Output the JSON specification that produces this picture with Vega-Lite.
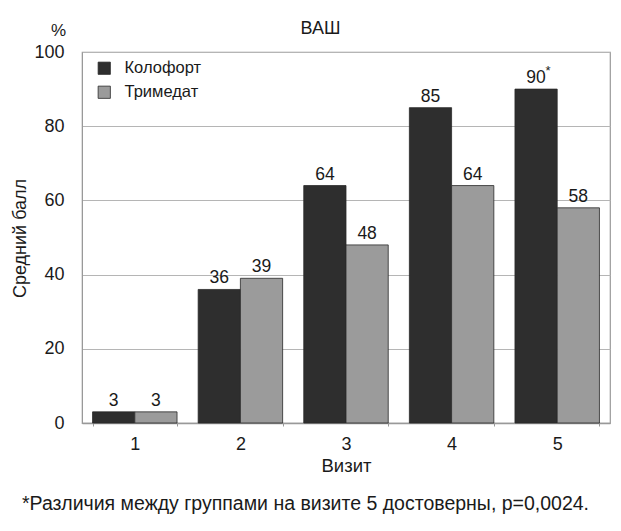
{
  "$schema": "https://vega.github.io/schema/vega-lite/v6.json",
  "autosize": "none",
  "width": 528,
  "height": 371,
  "padding": {"left": 82, "top": 52, "right": 11, "bottom": 108},
  "background": "white",
  "config": {
    "font": "Liberation Sans",
    "view": {"stroke": "#999999", "strokeWidth": 1.2}
  },
  "title": {
    "text": "*Различия между группами на визите 5 достоверны, p=0,0024.",
    "orient": "bottom",
    "anchor": "start",
    "frame": "group",
    "fontSize": 19.5,
    "fontWeight": "normal",
    "color": "#1a1a1a",
    "dx": -60,
    "offset": 20
  },
  "data": {
    "values": [
      {"visit": "1", "group": "Колофорт", "value": 3},
      {"visit": "1", "group": "Тримедат", "value": 3},
      {"visit": "2", "group": "Колофорт", "value": 36},
      {"visit": "2", "group": "Тримедат", "value": 39},
      {"visit": "3", "group": "Колофорт", "value": 64},
      {"visit": "3", "group": "Тримедат", "value": 48},
      {"visit": "4", "group": "Колофорт", "value": 85},
      {"visit": "4", "group": "Тримедат", "value": 64},
      {"visit": "5", "group": "Колофорт", "value": 90, "note": "*"},
      {"visit": "5", "group": "Тримедат", "value": 58}
    ]
  },
  "encoding": {
    "x": {
      "field": "visit",
      "type": "nominal",
      "scale": {"paddingInner": 0.2, "paddingOuter": 0.1}
    },
    "xOffset": {
      "field": "group",
      "type": "nominal",
      "sort": ["Колофорт", "Тримедат"],
      "scale": {"paddingInner": 0, "paddingOuter": 0}
    },
    "y": {
      "field": "value",
      "type": "quantitative",
      "scale": {"domain": [0, 100], "nice": false}
    }
  },
  "layer": [
    {
      "mark": {"type": "bar", "stroke": "#2a2a2a", "strokeWidth": 0.8},
      "encoding": {
        "x": {
          "field": "visit",
          "type": "nominal",
          "axis": {
            "orient": "bottom",
            "title": "Визит",
            "labelAngle": 0,
            "labelFontSize": 18,
            "labelColor": "#1a1a1a",
            "labelPadding": 9,
            "domainColor": "#999999",
            "domainWidth": 1.5,
            "tickBand": "extent",
            "tickSize": 3,
            "tickColor": "#999999",
            "titleFontSize": 18.5,
            "titleFontWeight": "normal",
            "titleColor": "#1a1a1a",
            "titlePadding": 3
          }
        },
        "y": {
          "field": "value",
          "type": "quantitative",
          "axis": {
            "orient": "left",
            "title": "Средний балл",
            "values": [0, 20, 40, 60, 80, 100],
            "ticks": false,
            "labelFontSize": 18,
            "labelColor": "#1a1a1a",
            "labelPadding": 18,
            "domainColor": "#999999",
            "gridColor": "#b5b5b5",
            "gridWidth": 1,
            "titleFontSize": 18,
            "titleFontWeight": "normal",
            "titleColor": "#1a1a1a",
            "titleX": -53,
            "titleY": 186
          }
        },
        "color": {
          "field": "group",
          "type": "nominal",
          "scale": {"domain": ["Колофорт", "Тримедат"], "range": ["#2e2e2e", "#9b9b9b"]},
          "legend": {
            "title": null,
            "orient": "none",
            "legendX": 14,
            "legendY": 8,
            "symbolType": "square",
            "symbolSize": 150,
            "symbolStrokeColor": "#2a2a2a",
            "symbolStrokeWidth": 0.8,
            "labelFontSize": 16.5,
            "labelColor": "#1a1a1a",
            "labelOffset": 12,
            "rowPadding": 7
          }
        }
      }
    },
    {
      "mark": {"type": "text", "baseline": "alphabetic", "dy": -6, "fontSize": 17.5, "color": "#1a1a1a"},
      "encoding": {
        "text": {"field": "value", "type": "quantitative"},
        "x": {
          "field": "visit",
          "type": "nominal",
          "axis": {
            "orient": "top",
            "title": "ВАШ",
            "labels": false,
            "ticks": false,
            "domain": false,
            "titleFontSize": 18,
            "titleFontWeight": "normal",
            "titleColor": "#1a1a1a",
            "titleX": 238,
            "titleY": -15
          }
        },
        "y": {
          "field": "value",
          "type": "quantitative",
          "axis": {
            "orient": "left",
            "title": "%",
            "labels": false,
            "ticks": false,
            "domain": false,
            "grid": false,
            "titleAngle": 0,
            "titleFontSize": 17,
            "titleFontWeight": "normal",
            "titleColor": "#1a1a1a",
            "titleX": -24,
            "titleY": -17,
            "titleAlign": "center",
            "titleBaseline": "alphabetic"
          }
        }
      }
    },
    {
      "transform": [{"filter": "datum.note != null"}],
      "mark": {"type": "text", "baseline": "alphabetic", "dx": 12, "dy": -14, "fontSize": 13, "color": "#1a1a1a"},
      "encoding": {
        "text": {"field": "note"},
        "x": {"field": "visit", "type": "nominal", "axis": null},
        "y": {"field": "value", "type": "quantitative", "axis": null}
      }
    }
  ],
  "resolve": {"axis": {"x": "independent", "y": "independent"}}
}
